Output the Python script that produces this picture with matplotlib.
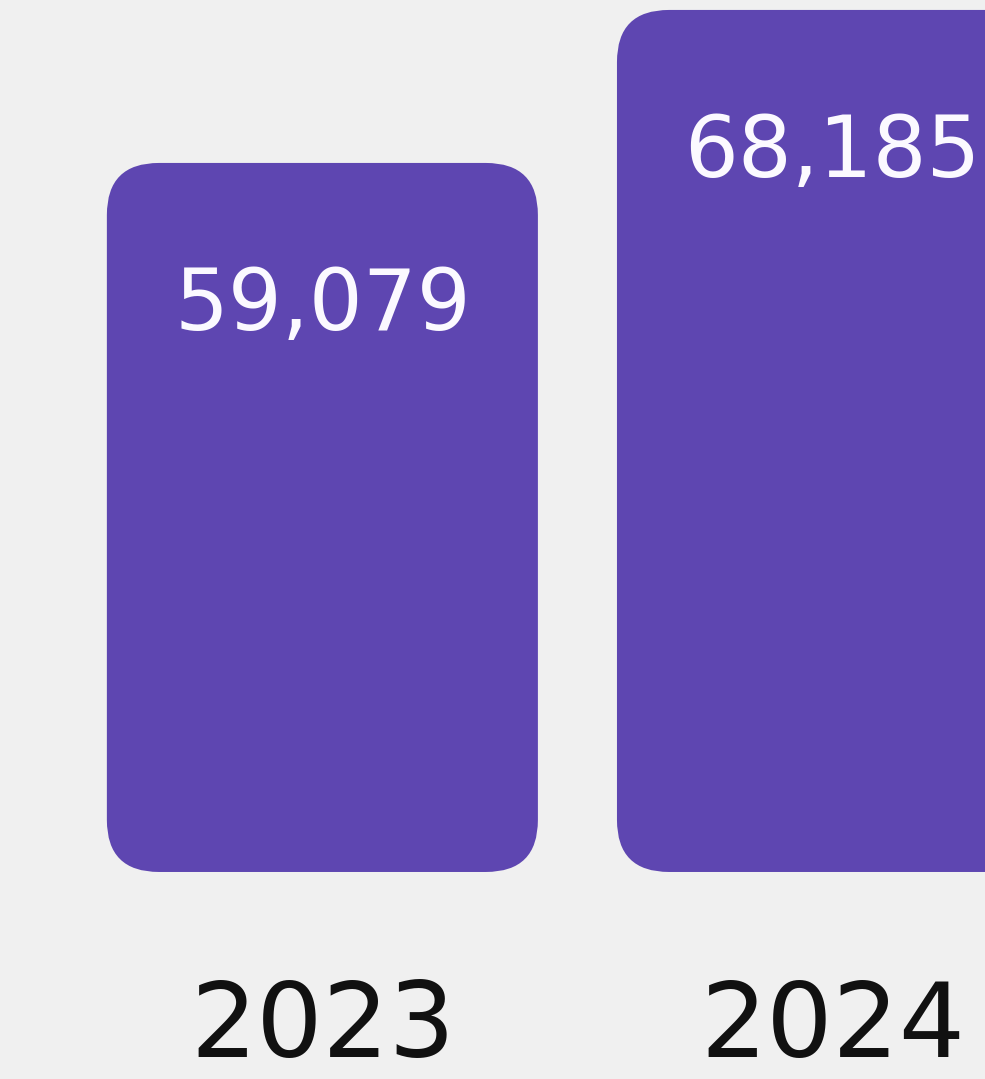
import matplotlib
matplotlib.use('Agg')
import matplotlib.pyplot as plt
from matplotlib.patches import FancyBboxPatch

years = ['2023', '2024']
visits = [59079, 68185]

bar_color = '#5e46b1'
bg_color = '#f0f0f0'

plt.rcParams['font.family'] = ['DejaVu Sans']

fig = plt.figure(figsize=(9.85, 10.79), dpi=100)
fig.patch.set_facecolor(bg_color)
ax = fig.add_axes([0, 0, 1, 1])
ax.set_facecolor(bg_color)

# axis does not start at zero, bars rise from this floor
floor = 16880
ax.set_xlim(-0.632, 1.299)
ax.set_ylim(4559, 68777)

x = list(range(len(years)))
heights = [v - floor for v in visits]
bars = ax.bar(x, heights, width=0.845, bottom=floor, color=bar_color)

# swap the square bars for rounded ones
fig_w, fig_h = fig.get_size_inches() * fig.dpi
x0, x1 = ax.get_xlim()
y0, y1 = ax.get_ylim()
px_x = fig_w / (x1 - x0)
px_y = fig_h / (y1 - y0)
radius_px = 52
for b in bars:
    bx, by = b.get_x(), b.get_y()
    bw, bh = b.get_width(), b.get_height()
    b.remove()
    patch = FancyBboxPatch((bx, by), bw, bh,
                           boxstyle='round,pad=0,rounding_size=%f' % (radius_px / px_x),
                           mutation_aspect=px_x / px_y,
                           facecolor=bar_color, edgecolor='none')
    ax.add_patch(patch)

for xi, v in zip(x, visits):
    ax.annotate(f'{v:,}', xy=(xi, v), xytext=(0, -167), textcoords='offset pixels',
                ha='center', va='baseline', color='#fbf9ff', fontsize=61)

for xi, year in zip(x, years):
    ax.text(xi, 22 / fig_h, year, transform=ax.get_xaxis_transform(),
            ha='center', va='baseline', color='#111111', fontsize=75)

ax.axis('off')
fig.savefig('out.png', dpi=100, facecolor=bg_color)
